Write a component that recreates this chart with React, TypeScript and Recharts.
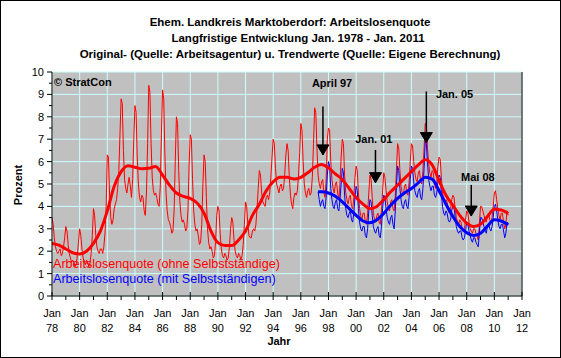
import React from "react";
import {
  LineChart,
  Line,
  XAxis,
  YAxis,
  CartesianGrid,
  ReferenceLine,
  ReferenceDot,
} from "recharts";

const FONT = "'Liberation Sans', Arial, sans-serif";

// Arbeitslosenquote ohne Selbstständige, monthly Jan..Dec, 1978..2010, then Jan 2011
const START_YEAR = 1978;
const rawOhne: number[][] = [
  [3.5, 3.2, 2.6, 2.2, 2.0, 1.9, 2.0, 2.1, 1.8, 1.9, 2.2, 2.6],
  [3.1, 2.9, 2.3, 1.9, 1.7, 1.5, 1.6, 1.5, 1.3, 1.4, 1.8, 2.4],
  [3.0, 2.7, 2.1, 1.7, 1.5, 1.4, 1.6, 1.5, 1.3, 1.5, 1.9, 2.7],
  [3.9, 3.6, 2.7, 2.2, 2.0, 1.9, 2.1, 2.1, 1.9, 2.2, 2.8, 4.0],
  [6.3, 6.2, 4.5, 3.5, 3.2, 3.4, 3.9, 4.1, 4.3, 4.8, 5.6, 7.2],
  [8.8, 8.6, 6.5, 5.2, 4.8, 4.6, 5.0, 5.3, 4.9, 4.4, 5.2, 7.0],
  [8.5, 8.2, 6.2, 5.0, 4.4, 4.2, 4.5, 4.4, 3.8, 3.6, 4.6, 6.8],
  [9.4, 9.1, 6.8, 5.3, 4.7, 4.5, 4.6, 4.4, 4.1, 4.0, 4.9, 7.2],
  [9.2, 8.8, 6.3, 4.6, 3.8, 3.4, 3.3, 3.1, 2.8, 2.9, 3.8, 6.0],
  [8.0, 7.7, 5.6, 4.2, 3.6, 3.3, 3.4, 3.2, 2.9, 3.0, 3.8, 5.8],
  [7.2, 7.0, 5.2, 3.8, 3.2, 2.9, 3.0, 2.7, 2.3, 2.4, 3.2, 5.0],
  [6.3, 6.0, 4.4, 3.0, 2.4, 2.1, 2.2, 2.0, 1.7, 1.8, 2.4, 3.6],
  [4.0, 3.8, 2.8, 2.1, 1.8, 1.7, 1.9, 1.8, 1.6, 1.7, 2.2, 3.0],
  [3.5, 3.3, 2.5, 2.0, 1.8, 1.7, 1.9, 1.8, 1.6, 1.8, 2.3, 3.2],
  [4.2, 4.0, 3.2, 2.7, 2.6, 2.6, 2.9, 3.0, 2.9, 3.2, 3.9, 4.8],
  [5.6, 5.4, 4.6, 4.2, 4.1, 4.0, 4.4, 4.5, 4.3, 4.6, 5.3, 6.2],
  [7.0, 6.8, 5.7, 5.0, 4.8, 4.6, 4.9, 5.0, 4.7, 4.8, 5.4, 6.3],
  [6.8, 6.5, 5.3, 4.5, 4.1, 3.9, 4.4, 4.6, 4.5, 4.7, 5.4, 6.4],
  [7.7, 7.4, 6.0, 5.0, 4.6, 4.4, 4.7, 4.8, 4.5, 4.6, 5.3, 6.8],
  [8.4, 8.2, 6.6, 5.4, 5.0, 4.8, 5.1, 5.2, 4.6, 4.4, 5.2, 7.0],
  [7.5, 7.4, 6.0, 5.2, 4.8, 4.6, 5.0, 5.1, 4.6, 4.3, 5.0, 6.2],
  [7.0, 6.8, 5.4, 4.6, 4.3, 4.1, 4.4, 4.5, 4.0, 3.9, 4.4, 5.3],
  [5.8, 5.6, 4.6, 3.9, 3.6, 3.4, 3.7, 3.7, 3.3, 3.2, 3.7, 4.6],
  [5.4, 5.2, 4.4, 3.7, 3.4, 3.3, 3.6, 3.7, 3.3, 3.2, 3.8, 4.7],
  [5.5, 5.3, 4.7, 4.2, 3.9, 3.8, 4.2, 4.3, 3.9, 3.8, 4.5, 5.6],
  [6.8, 6.6, 5.6, 4.9, 4.6, 4.5, 4.9, 5.0, 4.6, 4.5, 5.1, 6.0],
  [6.8, 6.7, 6.0, 5.5, 5.2, 5.1, 5.5, 5.6, 5.1, 5.0, 5.6, 6.6],
  [7.7, 7.6, 6.6, 5.9, 5.5, 5.3, 5.6, 5.5, 5.0, 4.8, 5.1, 5.8],
  [6.2, 6.1, 5.3, 4.6, 4.3, 4.1, 4.3, 4.2, 3.8, 3.7, 3.9, 4.3],
  [4.5, 4.4, 3.9, 3.5, 3.3, 3.2, 3.4, 3.3, 3.0, 2.9, 3.0, 3.4],
  [3.8, 3.7, 3.3, 3.0, 2.9, 2.8, 3.0, 3.0, 2.8, 2.7, 2.5, 3.2],
  [4.0, 4.0, 3.8, 3.6, 3.4, 3.3, 3.6, 3.7, 3.4, 3.3, 3.5, 4.0],
  [4.6, 4.7, 4.3, 3.9, 3.6, 3.4, 3.7, 3.7, 3.3, 3.0, 3.2, 3.8],
  [3.6],
];

// Arbeitslosenquote mit Selbstständigen: Apr..Dec 1997, then 1998..2010, then Jan 2011
const MIT_START_YEAR = 1997;
const MIT_START_MONTH = 3; // April (0-based)
const rawMit: number[][] = [
  [4.65, 4.3, 4.0, 4.2, 4.3, 4.0, 3.9, 4.4, 5.4],
  [6.0, 5.8, 4.8, 4.3, 4.0, 3.9, 4.2, 4.3, 3.9, 3.8, 4.3, 5.0],
  [5.7, 5.5, 4.5, 3.9, 3.6, 3.5, 3.7, 3.8, 3.4, 3.3, 3.7, 4.4],
  [4.9, 4.7, 3.9, 3.3, 3.0, 2.9, 3.1, 3.1, 2.7, 2.6, 3.0, 3.8],
  [4.3, 4.2, 3.6, 3.1, 2.9, 2.8, 3.0, 3.1, 2.7, 2.6, 3.1, 3.9],
  [4.5, 4.4, 3.9, 3.5, 3.3, 3.2, 3.5, 3.6, 3.2, 3.0, 3.8, 4.9],
  [5.8, 5.6, 4.8, 4.3, 4.0, 3.9, 4.2, 4.3, 4.0, 3.9, 4.4, 5.2],
  [5.8, 5.7, 5.1, 4.7, 4.5, 4.4, 4.7, 4.8, 4.4, 4.3, 4.8, 5.7],
  [6.9, 6.8, 5.9, 5.2, 4.9, 4.7, 4.9, 4.9, 4.5, 4.4, 4.6, 5.1],
  [5.4, 5.3, 4.6, 4.0, 3.7, 3.6, 3.8, 3.7, 3.4, 3.3, 3.4, 3.8],
  [4.1, 4.0, 3.5, 3.1, 2.9, 2.8, 2.9, 2.9, 2.6, 2.5, 2.6, 2.9],
  [3.3, 3.2, 2.9, 2.7, 2.5, 2.4, 2.6, 2.6, 2.4, 2.3, 2.2, 2.8],
  [3.5, 3.5, 3.3, 3.1, 2.9, 2.8, 3.1, 3.2, 3.0, 2.9, 3.1, 3.5],
  [4.0, 4.1, 3.8, 3.4, 3.1, 3.0, 3.2, 3.2, 2.9, 2.6, 2.8, 3.3],
  [3.2],
];

// Trend values (year, value)
const trendOhne: [number, number][] = [
  [1978.0, 2.35], [1978.5, 2.27], [1979.0, 2.1], [1979.5, 1.93], [1980.0, 1.88],
  [1980.5, 2.0], [1981.0, 2.35], [1981.5, 2.9], [1982.0, 3.8], [1982.5, 4.9],
  [1983.0, 5.55], [1983.5, 5.82], [1984.0, 5.75], [1984.5, 5.68], [1985.0, 5.7],
  [1985.5, 5.78], [1986.0, 5.4], [1986.5, 4.95], [1987.0, 4.6], [1987.5, 4.45],
  [1988.0, 4.36], [1988.5, 4.15], [1989.0, 3.7], [1989.5, 2.9], [1990.0, 2.38],
  [1990.5, 2.25], [1991.0, 2.25], [1991.5, 2.5], [1992.0, 2.9], [1992.5, 3.6],
  [1993.0, 4.1], [1993.5, 4.7], [1994.0, 5.1], [1994.5, 5.3], [1995.0, 5.3],
  [1995.5, 5.22], [1996.0, 5.3], [1996.5, 5.5], [1997.0, 5.75], [1997.5, 5.87],
  [1998.0, 5.72], [1998.5, 5.45], [1999.0, 5.2], [1999.5, 4.8], [2000.0, 4.4],
  [2000.5, 4.1], [2001.0, 3.9], [2001.5, 4.0], [2002.0, 4.3], [2002.5, 4.65],
  [2003.0, 4.95], [2003.5, 5.25], [2004.0, 5.55], [2004.5, 5.85], [2005.0, 6.08],
  [2005.5, 5.85], [2006.0, 5.15], [2006.5, 4.5], [2007.0, 4.05], [2007.5, 3.6],
  [2008.0, 3.25], [2008.5, 3.1], [2009.0, 3.2], [2009.5, 3.55], [2010.0, 3.87],
  [2010.5, 3.84], [2011.0, 3.68],
];

const trendMit: [number, number][] = [
  [1997.25, 4.65], [1997.5, 4.65], [1998.0, 4.6], [1998.5, 4.45], [1999.0, 4.2],
  [1999.5, 3.9], [2000.0, 3.6], [2000.5, 3.35], [2001.0, 3.27], [2001.5, 3.4],
  [2002.0, 3.69], [2002.5, 4.05], [2003.0, 4.36], [2003.5, 4.6], [2004.0, 4.8],
  [2004.5, 5.05], [2005.0, 5.3], [2005.5, 5.22], [2006.0, 4.7], [2006.5, 4.1],
  [2007.0, 3.55], [2007.5, 3.1], [2008.0, 2.82], [2008.5, 2.7], [2009.0, 2.8],
  [2009.5, 3.12], [2010.0, 3.4], [2010.5, 3.35], [2011.0, 3.18],
];

// Annotations (arrow x in years, values in %)
const annotations = [
  { text: "April 97", x: 1997.6, tip: 6.3, top: 8.46, tx: 1998.26, ty: 9.52 },
  { text: "Jan. 01", x: 2001.4, tip: 5.06, top: 6.52, tx: 2001.28, ty: 7.01 },
  { text: "Jan. 05", x: 2005.08, tip: 6.85, top: 9.13, tx: 2007.12, ty: 9.03 },
  { text: "Mai 08", x: 2008.33, tip: 3.57, top: 4.96, tx: 2008.81, ty: 5.31 },
];

const titleLines = [
  "Ehem. Landkreis Marktoberdorf: Arbeitslosenquote",
  "Langfristige Entwicklung Jan. 1978 - Jan. 2011",
  "Original- (Quelle: Arbeitsagentur) u. Trendwerte (Quelle: Eigene Berechnung)",
];
const legendOhne = "Arbeitslosenquote (ohne Selbstständige)";
const legendMit = "Arbeitslosenquote (mit Selbstständigen)";

const X_MIN = 1978;
const X_MAX = 2012;
const xTicks: number[] = [];
for (let y = X_MIN; y <= X_MAX; y++) xTicks.push(y);
const gridYears: number[] = xTicks.filter((y) => y % 2 === 0);
const yTicks: number[] = [];
for (let v = 0; v <= 20; v++) yTicks.push(v / 2);
const gridVals = [0, 1, 2, 3, 4, 5, 6, 7, 8, 9, 10];

function monthlyPoints(rows: number[][], startYear: number, startMonth: number) {
  const pts: { t: number; v: number }[] = [];
  let idx = startYear * 12 + startMonth;
  rows.forEach((row) => {
    row.forEach((v) => {
      pts.push({ t: idx / 12, v });
      idx += 1;
    });
  });
  return pts;
}

const ohnePts = monthlyPoints(rawOhne, START_YEAR, 0);
const mitPts = monthlyPoints(rawMit, MIT_START_YEAR, MIT_START_MONTH);
const trendOhnePts = trendOhne.map(([t, v]) => ({ t, v }));
const trendMitPts = trendMit.map(([t, v]) => ({ t, v }));

const XTick = (props: any) => {
  const { x, y, payload } = props;
  const yr: number = payload.value;
  const major = yr % 2 === 0;
  return (
    <g>
      <line x1={x} x2={x} y1={major ? y - 4 : y} y2={y + 4} stroke="#000" strokeWidth={1} />
      {major && (
        <>
          <text x={x} y={y + 21} textAnchor="middle" fontSize={11} fontFamily={FONT} fill="#000">
            Jan
          </text>
          <text x={x} y={y + 36} textAnchor="middle" fontSize={11} fontFamily={FONT} fill="#000">
            {String(yr % 100).padStart(2, "0")}
          </text>
        </>
      )}
    </g>
  );
};

const YTickLeft = (props: any) => {
  const { x, y, payload } = props;
  const v: number = payload.value;
  const major = Number.isInteger(v);
  return (
    <g>
      <line x1={x - (major ? 5 : 3)} x2={x} y1={y} y2={y} stroke="#000" strokeWidth={1} />
      {major && (
        <text x={x - 8} y={y + 4} textAnchor="end" fontSize={11} fontFamily={FONT} fill="#000">
          {v}
        </text>
      )}
    </g>
  );
};

const YTickRight = (props: any) => {
  const { x, y, payload } = props;
  const v: number = payload.value;
  const major = Number.isInteger(v);
  return (
    <g>
      <line x1={major ? x - 4 : x} x2={x + 4} y1={y} y2={y} stroke="#000" strokeWidth={1} />
      {major && (
        <text x={x + 8} y={y + 4} textAnchor="start" fontSize={11} fontFamily={FONT} fill="#000">
          {v}
        </text>
      )}
    </g>
  );
};

export default function App() {
  return (
    <div style={{ position: "relative", width: 561, height: 358, background: "#fff", fontFamily: FONT }}>
      <style>{"body{margin:0;}"}</style>
      <LineChart width={561} height={358} margin={{ top: 72, right: 0, bottom: 0, left: 0 }}>
        <CartesianGrid
          yAxisId="left"
          fill="#c0c0c0"
          fillOpacity={1}
          stroke="#ccffff"
          strokeWidth={1}
          horizontalValues={gridVals}
          verticalValues={gridYears}
        />
        <XAxis
          dataKey="t"
          type="number"
          domain={[X_MIN, X_MAX]}
          ticks={xTicks}
          interval={0}
          tickSize={0}
          tickMargin={0}
          tick={<XTick />}
          axisLine={{ stroke: "#000" }}
          tickLine={false}
          height={62}
          allowDataOverflow
        />
        <YAxis
          yAxisId="left"
          type="number"
          domain={[0, 10]}
          ticks={yTicks}
          interval={0}
          tickSize={0}
          tickMargin={0}
          tick={<YTickLeft />}
          axisLine={{ stroke: "#000" }}
          tickLine={false}
          width={52}
        />
        <YAxis
          yAxisId="right"
          orientation="right"
          type="number"
          domain={[0, 10]}
          ticks={yTicks}
          interval={0}
          tickSize={0}
          tickMargin={0}
          tick={<YTickRight />}
          axisLine={{ stroke: "#000" }}
          tickLine={false}
          width={39}
        />
        <Line
          yAxisId="left"
          data={ohnePts}
          dataKey="v"
          type="linear"
          stroke="#ff0000"
          strokeWidth={1}
          dot={false}
          activeDot={false}
          isAnimationActive={false}
        />
        <Line
          yAxisId="left"
          data={mitPts}
          dataKey="v"
          type="linear"
          stroke="#0000ff"
          strokeWidth={1}
          dot={false}
          activeDot={false}
          isAnimationActive={false}
        />
        <Line
          yAxisId="left"
          data={trendOhnePts}
          dataKey="v"
          type="monotone"
          stroke="#ff0000"
          strokeWidth={3}
          dot={false}
          activeDot={false}
          isAnimationActive={false}
        />
        <Line
          yAxisId="left"
          data={trendMitPts}
          dataKey="v"
          type="monotone"
          stroke="#0000ff"
          strokeWidth={3}
          dot={false}
          activeDot={false}
          isAnimationActive={false}
        />
        {annotations.map((a) => (
          <ReferenceLine
            key={"l" + a.text}
            yAxisId="left"
            segment={[
              { x: a.x, y: a.top },
              { x: a.x, y: a.tip },
            ]}
            stroke="#000"
            strokeWidth={1.5}
          />
        ))}
        {annotations.map((a) => (
          <ReferenceDot
            key={"h" + a.text}
            yAxisId="left"
            x={a.x}
            y={a.tip}
            r={0}
            shape={(p: any) => (
              <path
                d={`M${p.cx - 6},${p.cy - 10} L${p.cx + 6},${p.cy - 10} L${p.cx},${p.cy} Z`}
                fill="#000"
                stroke="#000"
              />
            )}
          />
        ))}
        {annotations.map((a) => (
          <ReferenceDot
            key={"t" + a.text}
            yAxisId="left"
            x={a.tx}
            y={a.ty}
            r={0}
            shape={(p: any) => (
              <text
                x={p.cx}
                y={p.cy + 4}
                textAnchor="middle"
                fontSize={11}
                fontWeight="bold"
                fontFamily={FONT}
                fill="#000"
              >
                {a.text}
              </text>
            )}
          />
        ))}
      </LineChart>

      {titleLines.map((t, i) => (
        <div
          key={t}
          style={{
            position: "absolute",
            left: i === 1 ? 8 : 0,
            width: 580,
            top: [15, 31, 47][i],
            textAlign: "center",
            fontSize: 11.5,
            fontWeight: "bold",
            lineHeight: "14px",
            color: "#000",
            whiteSpace: "nowrap",
          }}
        >
          {t}
        </div>
      ))}
      <div style={{ position: "absolute", left: 54, top: 76, fontSize: 11, fontWeight: "bold", lineHeight: "13px" }}>
        © StratCon
      </div>
      <div style={{ position: "absolute", left: 53, top: 257, fontSize: 12.6, lineHeight: "15px", color: "#ff0000", whiteSpace: "nowrap" }}>
        {legendOhne}
      </div>
      <div style={{ position: "absolute", left: 53, top: 272, fontSize: 12.6, lineHeight: "15px", color: "#0000ff", whiteSpace: "nowrap" }}>
        {legendMit}
      </div>
      <div
        style={{
          position: "absolute",
          left: 18,
          top: 185,
          transform: "translate(-50%, -50%) rotate(-90deg)",
          fontSize: 11,
          fontWeight: "bold",
          whiteSpace: "nowrap",
        }}
      >
        Prozent
      </div>
      <div
        style={{
          position: "absolute",
          left: 279,
          top: 335,
          transform: "translateX(-50%)",
          fontSize: 11,
          fontWeight: "bold",
          lineHeight: "13px",
          whiteSpace: "nowrap",
        }}
      >
        Jahr
      </div>
      <div
        style={{
          position: "absolute",
          inset: 0,
          border: "1px solid #000",
          boxSizing: "border-box",
          pointerEvents: "none",
        }}
      />
    </div>
  );
}
